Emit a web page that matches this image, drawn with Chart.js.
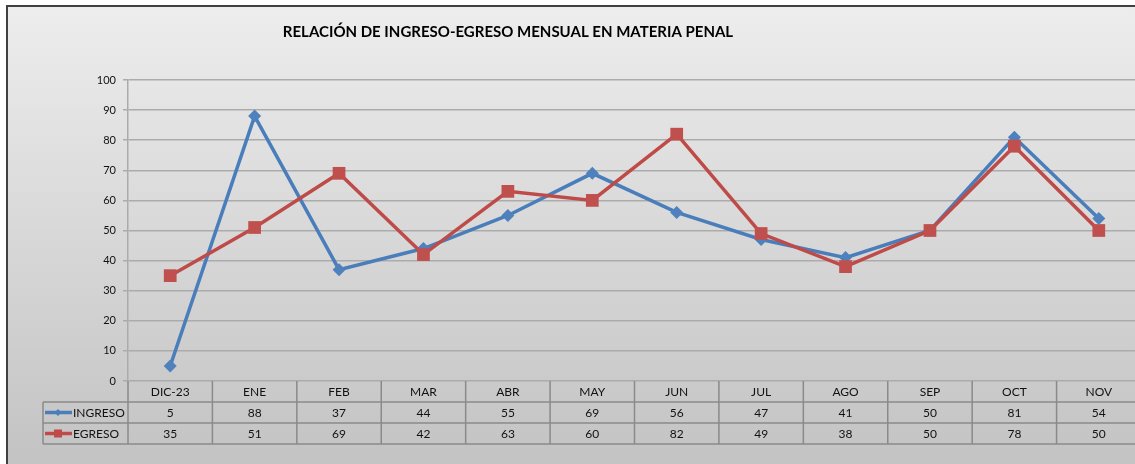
<!DOCTYPE html>
<html>
<head>
<meta charset="utf-8">
<script src="https://cdn.jsdelivr.net/npm/chart.js@4.4.1/dist/chart.umd.min.js"></script>
<style>
  html, body { margin: 0; padding: 0; background: #ffffff; overflow: hidden; width: 1135px; height: 464px; }
  #wrap { position: relative; width: 1141px; height: 464px; }
</style>
</head>
<body>
<div id="wrap"><canvas id="c" width="1141" height="464"></canvas></div>
<script>
const title = 'RELACIÓN DE INGRESO-EGRESO MENSUAL EN MATERIA PENAL';
const categories = ['DIC-23', 'ENE', 'FEB', 'MAR', 'ABR', 'MAY', 'JUN', 'JUL', 'AGO', 'SEP', 'OCT', 'NOV'];
const ingreso = [5, 88, 37, 44, 55, 69, 56, 47, 41, 50, 81, 54];
const egreso = [35, 51, 69, 42, 63, 60, 82, 49, 38, 50, 78, 50];
const seriesNames = ['INGRESO', 'EGRESO'];
const yTicks = { min: 0, max: 100, step: 10 };

const BLUE = '#4a7ebb';
const RED = '#be4b48';
const FONT = 'Lato, "Liberation Sans", sans-serif';

const bgPlugin = {
  id: 'bg',
  beforeDraw(chart) {
    const ctx = chart.ctx;
    const W = chart.width, H = chart.height;
    ctx.save();
    ctx.fillStyle = '#ffffff';
    ctx.fillRect(0, 0, W, H);
    const g = ctx.createLinearGradient(0, 6, 0, H);
    g.addColorStop(0, '#ededed');
    g.addColorStop(1, '#c3c3c3');
    ctx.fillStyle = g;
    ctx.fillRect(7, 6, W - 7, H - 6);
    ctx.strokeStyle = '#404040';
    ctx.lineWidth = 2;
    ctx.beginPath();
    ctx.moveTo(7, H + 2);
    ctx.lineTo(7, 6);
    ctx.lineTo(W + 2, 6);
    ctx.stroke();
    // title
    ctx.fillStyle = '#000000';
    ctx.font = 'bold 15px ' + FONT;
    ctx.textAlign = 'center';
    ctx.textBaseline = 'middle';
    ctx.fillText(title, 508, 32);
    ctx.restore();
  }
};

const tablePlugin = {
  id: 'dataTable',
  afterDraw(chart) {
    const ctx = chart.ctx;
    const xs = chart.scales.x;
    const area = chart.chartArea;
    const n = categories.length;
    const colW = (area.right - area.left) / n;
    const rowH = 21;
    const y0 = area.bottom;
    const legendLeft = 43;
    ctx.save();
    ctx.strokeStyle = '#8a8a8a';
    ctx.lineWidth = 1.5;
    ctx.beginPath();
    for (let r = 1; r <= 3; r++) {
      const y = y0 + r * rowH;
      ctx.moveTo(legendLeft, y);
      ctx.lineTo(area.right + 2, y);
    }
    for (let i = 0; i <= n; i++) {
      const x = i < n ? xs.getPixelForValue(i) - colW / 2 : xs.getPixelForValue(n - 1) + colW / 2;
      ctx.moveTo(x, y0);
      ctx.lineTo(x, y0 + 3 * rowH);
    }
    ctx.moveTo(legendLeft, y0 + rowH);
    ctx.lineTo(legendLeft, y0 + 3 * rowH);
    ctx.stroke();

    ctx.fillStyle = '#111111';
    ctx.font = '12px ' + FONT;
    ctx.textAlign = 'center';
    ctx.textBaseline = 'middle';
    const rows = [ingreso, egreso];
    for (let i = 0; i < n; i++) {
      const cx = xs.getPixelForValue(i);
      ctx.fillText(categories[i], cx, y0 + rowH / 2 + 1);
      for (let r = 0; r < rows.length; r++) {
        ctx.fillText(String(rows[r][i]), cx, y0 + (r + 1) * rowH + rowH / 2 + 1);
      }
    }
    const colors = [BLUE, RED];
    for (let r = 0; r < 2; r++) {
      const cy = y0 + (r + 1) * rowH + rowH / 2;
      ctx.strokeStyle = colors[r];
      ctx.lineWidth = 3.5;
      ctx.beginPath();
      ctx.moveTo(45, cy);
      ctx.lineTo(72, cy);
      ctx.stroke();
      ctx.fillStyle = colors[r];
      ctx.beginPath();
      if (r === 0) {
        ctx.moveTo(58, cy - 3.5); ctx.lineTo(61.5, cy); ctx.lineTo(58, cy + 3.5); ctx.lineTo(54.5, cy);
        ctx.closePath();
      } else {
        ctx.rect(54, cy - 4, 8, 8);
      }
      ctx.fill();
      ctx.fillStyle = '#111111';
      ctx.textAlign = 'left';
      ctx.fillText(seriesNames[r], 73, cy + 1);
    }
    ctx.restore();
  }
};

new Chart(document.getElementById('c'), {
  type: 'line',
  data: {
    labels: categories,
    datasets: [
      {
        label: seriesNames[0],
        data: ingreso,
        borderColor: BLUE,
        backgroundColor: '#4f81bd',
        borderWidth: 3.5,
        pointStyle: 'rectRot',
        pointRadius: 6.5,
        pointHoverRadius: 6.5,
        pointBorderWidth: 0,
        tension: 0,
        order: 2
      },
      {
        label: seriesNames[1],
        data: egreso,
        borderColor: RED,
        backgroundColor: '#c0504d',
        borderWidth: 3.5,
        pointStyle: 'rect',
        pointRadius: 9,
        pointHoverRadius: 9,
        pointBorderWidth: 0,
        tension: 0,
        order: 1
      }
    ]
  },
  options: {
    responsive: false,
    animation: false,
    events: [],
    layout: { autoPadding: false, padding: { top: 80, bottom: 83, left: 0, right: 0 } },
    plugins: {
      legend: { display: false },
      title: { display: false },
      tooltip: { enabled: false }
    },
    scales: {
      x: {
        display: false,
        offset: true
      },
      y: {
        min: yTicks.min,
        max: yTicks.max,
        afterFit(scale) { scale.width = 128; },
        ticks: {
          stepSize: yTicks.step,
          color: '#111111',
          font: { family: FONT, size: 11 },
          padding: 7
        },
        grid: {
          color: '#ababab',
          lineWidth: 1.5,
          tickLength: 5,
          drawTicks: true
        },
        border: { display: true, color: '#ababab', width: 1.5 }
      }
    }
  },
  plugins: [bgPlugin, tablePlugin]
});
</script>
</body>
</html>
